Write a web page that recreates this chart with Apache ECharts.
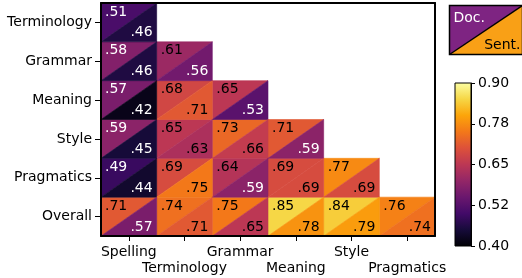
<!DOCTYPE html>
<html><head><meta charset="utf-8">
<script src="https://cdn.jsdelivr.net/npm/echarts@6/dist/echarts.min.js"></script>
<style>html,body{margin:0;padding:0;background:#fff}#c{width:522px;height:278px}</style>
</head><body><div id="c"></div>
<script>
const xCategories = ['Spelling','Terminology','Grammar','Meaning','Style','Pragmatics'];
const yCategories = ['Terminology','Grammar','Meaning','Style','Pragmatics','Overall'];
// Lower-triangular rows: row i has i+1 values (columns 0..i)
const docValues = [
  [0.51],
  [0.58, 0.61],
  [0.57, 0.68, 0.65],
  [0.59, 0.65, 0.73, 0.71],
  [0.49, 0.69, 0.64, 0.69, 0.77],
  [0.71, 0.74, 0.75, 0.85, 0.84, 0.76]
];
const sentValues = [
  [0.46],
  [0.46, 0.56],
  [0.42, 0.71, 0.53],
  [0.45, 0.63, 0.66, 0.59],
  [0.44, 0.75, 0.59, 0.69, 0.69],
  [0.57, 0.71, 0.65, 0.78, 0.79, 0.74]
];
const colorbarTicks = [0.4, 0.525, 0.65, 0.775, 0.9];
const colorbarTickLabels = ['0.40','0.52','0.65','0.78','0.90'];
const vMin = 0.4, vMax = 0.9;

const inferno = ['#000004','#160b39','#420a68','#6a176e','#932667','#bc3754','#dd513a','#f37819','#fca50a','#f6d746','#fcffa4'];

const docData = [], sentData = [], labelData = [];
docValues.forEach((row, yi) => row.forEach((v, xi) => {
  docData.push([xi, yi, v]);
  sentData.push([xi, yi, sentValues[yi][xi]]);
  labelData.push([xi, yi, v, sentValues[yi][xi]]);
}));

const FS = 14;
const FONT = FS + 'px "DejaVu Sans"';
function cellBox(api) {
  const c = api.coord([api.value(0), api.value(1)]);
  const s = api.size([1, 1]);
  const w = Math.abs(s[0]), h = Math.abs(s[1]);
  return {x0: c[0]-w/2, x1: c[0]+w/2, y0: c[1]-h/2, y1: c[1]+h/2};
}
function triRender(kind) {
  return function(params, api) {
    const b = cellBox(api);
    const col = api.visual('color');
    const pts = kind === 'doc'
      ? [[b.x0,b.y0],[b.x1,b.y0],[b.x0,b.y1]]
      : [[b.x1,b.y0],[b.x1,b.y1],[b.x0,b.y1]];
    return {type:'polygon', shape:{points:pts}, style:{fill:col, stroke:col, lineWidth:0.6}};
  };
}
function fmt(v){ return v.toFixed(2).replace(/^0/, ''); }
function txtColor(v){ return v < 0.6 ? '#fff' : '#000'; }

const chart = echarts.init(document.getElementById('c'), null, {renderer:'canvas'});
const option = {
  animation: false,
  grid: [
    {left:101, top:3, width:334, height:233, containLabel:false},
    {left:455, top:83, width:16, height:163, containLabel:false}
  ],
  visualMap: {
    type:'continuous', show:false, min:vMin, max:vMax, dimension:2,
    seriesIndex:[0,1], inRange:{color: inferno}
  },
  xAxis: [
    {type:'category', gridIndex:0, data:xCategories, position:'bottom', z:10,
     axisLine:{show:true, lineStyle:{color:'#000', width:2}},
     axisTick:{show:true, alignWithLabel:true, length:5, lineStyle:{color:'#000', width:1}},
     axisLabel:{interval:0, margin:8, color:'#000', fontFamily:'DejaVu Sans', fontSize:FS, lineHeight:16,
       formatter:(val, idx) => idx % 2 ? '\n' + val : val},
     splitLine:{show:false}},
    {type:'category', gridIndex:0, data:xCategories, position:'top', z:10,
     axisLine:{show:true, lineStyle:{color:'#000', width:2}},
     axisTick:{show:false}, axisLabel:{show:false}},
    {type:'category', gridIndex:1, data:[''], show:false}
  ],
  yAxis: [
    {type:'category', gridIndex:0, data:yCategories, inverse:true, position:'left', z:10,
     axisLine:{show:true, lineStyle:{color:'#000', width:2}},
     axisTick:{show:true, alignWithLabel:true, length:6, lineStyle:{color:'#000', width:1}},
     axisLabel:{interval:0, margin:9, color:'#000', fontFamily:'DejaVu Sans', fontSize:FS}},
    {type:'category', gridIndex:0, data:yCategories, inverse:true, position:'right', z:10,
     axisLine:{show:true, lineStyle:{color:'#000', width:2}},
     axisTick:{show:false}, axisLabel:{show:false}},
    {type:'value', gridIndex:1, min:vMin, max:vMax, position:'right', z:10,
     axisLine:{show:true, lineStyle:{color:'#000', width:1}},
     splitLine:{show:false},
     axisTick:{show:true, length:4, customValues:colorbarTicks, lineStyle:{color:'#000'}},
     axisLabel:{show:true, margin:7, customValues:colorbarTicks, color:'#000', fontFamily:'DejaVu Sans', fontSize:FS,
       formatter:(v) => { const i = colorbarTicks.findIndex(t => Math.abs(t - v) < 1e-6); return i >= 0 ? colorbarTickLabels[i] : ''; }}}
  ],
  series: [
    {type:'custom', xAxisIndex:0, yAxisIndex:0, data:docData, renderItem:triRender('doc'), z:2},
    {type:'custom', xAxisIndex:0, yAxisIndex:0, data:sentData, renderItem:triRender('sent'), z:2},
    {type:'custom', xAxisIndex:0, yAxisIndex:0, data:labelData, z:5,
     renderItem:function(params, api){
       const b = cellBox(api);
       const d = api.value(2), s = api.value(3);
       return {type:'group', children:[
         {type:'text', style:{text:fmt(d), x:b.x0+4, y:b.y0+9, font:FONT, fill:txtColor(d), align:'left', verticalAlign:'middle'}},
         {type:'text', style:{text:fmt(s), x:b.x1-4, y:b.y1-9, font:FONT, fill:txtColor(s), align:'right', verticalAlign:'middle'}}
       ]};
     }},
    {type:'custom', xAxisIndex:2, yAxisIndex:2, data:[[0, vMin, vMax]], z:2,
     renderItem:function(params, api){
       const top = api.coord([0, api.value(2)]);
       const bot = api.coord([0, api.value(1)]);
       const w = api.size([1, 0])[0];
       const stops = inferno.map((c, i) => ({offset: 1 - i/(inferno.length-1), color:c}));
       return {type:'rect', shape:{x:top[0]-w/2, y:top[1], width:w, height:bot[1]-top[1]},
         style:{fill:new echarts.graphic.LinearGradient(0,0,0,1, stops.reverse()), stroke:'#000', lineWidth:1}};
     }}
  ],
  graphic: [
    {type:'group', left:447, top:3, children:[
      {type:'polygon', shape:{points:[[0,0],[73,0],[0,49]]}, style:{fill:'#7e2482'}},
      {type:'polygon', shape:{points:[[73,0],[73,49],[0,49]]}, style:{fill:'#f9a016'}},
      {type:'line', shape:{x1:0, y1:49, x2:73, y2:0}, style:{stroke:'#000', lineWidth:1.5}},
      {type:'rect', shape:{x:0, y:0, width:73, height:49}, style:{fill:'none', stroke:'#000', lineWidth:1.5}},
      {type:'text', style:{text:'Doc.', x:4, y:13, font:FONT, fill:'#fff', verticalAlign:'middle'}},
      {type:'text', style:{text:'Sent.', x:71, y:40, font:FONT, fill:'#000', align:'right', verticalAlign:'middle'}}
    ]}
  ]
};
chart.setOption(option);
</script></body></html>
